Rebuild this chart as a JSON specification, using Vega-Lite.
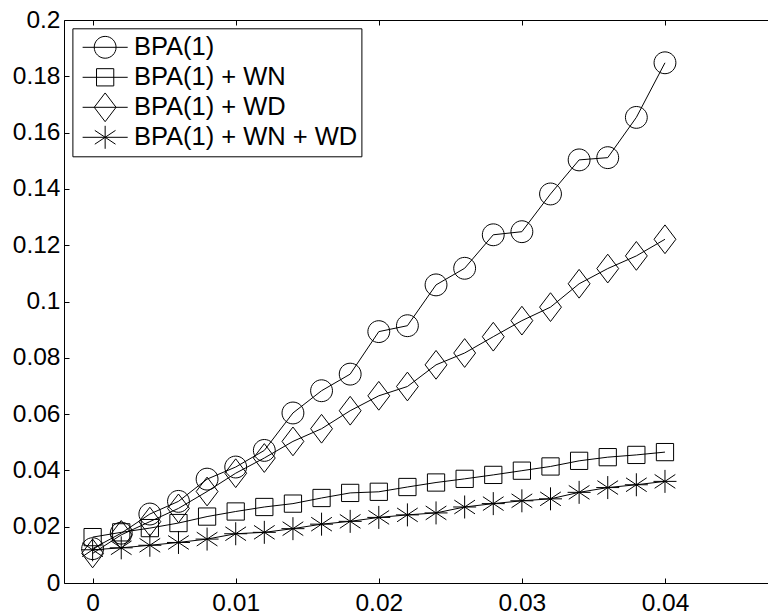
{
  "$schema": "https://vega.github.io/schema/vega-lite/v6.json",
  "width": 704,
  "height": 563,
  "autosize": {"type": "none"},
  "padding": {"left": 64, "top": 20, "right": 0, "bottom": 32},
  "background": "white",
  "config": {
    "view": {"stroke": null},
    "font": "Liberation Sans",
    "axis": {
      "grid": false,
      "title": null,
      "domainColor": "black",
      "domainWidth": 1,
      "tickColor": "black",
      "tickWidth": 1,
      "tickSize": -5,
      "labelFont": "Liberation Sans",
      "labelFontSize": 24.5,
      "labelColor": "black"
    },
    "legend": {
      "orient": "none",
      "legendX": 8.4,
      "legendY": 8.3,
      "strokeColor": "black",
      "fillColor": "white",
      "padding": 4,
      "labelFont": "Liberation Sans",
      "labelFontSize": 25.5,
      "labelColor": "black",
      "labelLimit": 0,
      "symbolSize": 529,
      "symbolOffset": 16,
      "labelOffset": 16,
      "rowPadding": 0,
      "clipHeight": 30,
      "symbolStrokeWidth": 1,
      "symbolStrokeColor": "black",
      "symbolFillColor": "transparent",
      "symbolOpacity": 1
    }
  },
  "data": {
    "values": [
      {"series": "BPA(1)", "x": 0.000, "y": 0.0122},
      {"series": "BPA(1)", "x": 0.002, "y": 0.0177},
      {"series": "BPA(1)", "x": 0.004, "y": 0.0245},
      {"series": "BPA(1)", "x": 0.006, "y": 0.0290},
      {"series": "BPA(1)", "x": 0.008, "y": 0.0369},
      {"series": "BPA(1)", "x": 0.010, "y": 0.0412},
      {"series": "BPA(1)", "x": 0.012, "y": 0.0471},
      {"series": "BPA(1)", "x": 0.014, "y": 0.0604},
      {"series": "BPA(1)", "x": 0.016, "y": 0.0683},
      {"series": "BPA(1)", "x": 0.018, "y": 0.0742},
      {"series": "BPA(1)", "x": 0.020, "y": 0.0893},
      {"series": "BPA(1)", "x": 0.022, "y": 0.0914},
      {"series": "BPA(1)", "x": 0.024, "y": 0.1059},
      {"series": "BPA(1)", "x": 0.026, "y": 0.1118},
      {"series": "BPA(1)", "x": 0.028, "y": 0.1237},
      {"series": "BPA(1)", "x": 0.030, "y": 0.1248},
      {"series": "BPA(1)", "x": 0.032, "y": 0.1382},
      {"series": "BPA(1)", "x": 0.034, "y": 0.1503},
      {"series": "BPA(1)", "x": 0.036, "y": 0.1511},
      {"series": "BPA(1)", "x": 0.038, "y": 0.1654},
      {"series": "BPA(1)", "x": 0.040, "y": 0.1848},
      {"series": "BPA(1) + WN", "x": 0.000, "y": 0.0163},
      {"series": "BPA(1) + WN", "x": 0.002, "y": 0.0180},
      {"series": "BPA(1) + WN", "x": 0.004, "y": 0.0195},
      {"series": "BPA(1) + WN", "x": 0.006, "y": 0.0213},
      {"series": "BPA(1) + WN", "x": 0.008, "y": 0.0236},
      {"series": "BPA(1) + WN", "x": 0.010, "y": 0.0254},
      {"series": "BPA(1) + WN", "x": 0.012, "y": 0.0270},
      {"series": "BPA(1) + WN", "x": 0.014, "y": 0.0282},
      {"series": "BPA(1) + WN", "x": 0.016, "y": 0.0302},
      {"series": "BPA(1) + WN", "x": 0.018, "y": 0.0320},
      {"series": "BPA(1) + WN", "x": 0.020, "y": 0.0324},
      {"series": "BPA(1) + WN", "x": 0.022, "y": 0.0341},
      {"series": "BPA(1) + WN", "x": 0.024, "y": 0.0357},
      {"series": "BPA(1) + WN", "x": 0.026, "y": 0.0370},
      {"series": "BPA(1) + WN", "x": 0.028, "y": 0.0384},
      {"series": "BPA(1) + WN", "x": 0.030, "y": 0.0399},
      {"series": "BPA(1) + WN", "x": 0.032, "y": 0.0414},
      {"series": "BPA(1) + WN", "x": 0.034, "y": 0.0434},
      {"series": "BPA(1) + WN", "x": 0.036, "y": 0.0447},
      {"series": "BPA(1) + WN", "x": 0.038, "y": 0.0455},
      {"series": "BPA(1) + WN", "x": 0.040, "y": 0.0465},
      {"series": "BPA(1) + WD", "x": 0.000, "y": 0.0105},
      {"series": "BPA(1) + WD", "x": 0.002, "y": 0.0171},
      {"series": "BPA(1) + WD", "x": 0.004, "y": 0.0218},
      {"series": "BPA(1) + WD", "x": 0.006, "y": 0.0265},
      {"series": "BPA(1) + WD", "x": 0.008, "y": 0.0325},
      {"series": "BPA(1) + WD", "x": 0.010, "y": 0.0390},
      {"series": "BPA(1) + WD", "x": 0.012, "y": 0.0444},
      {"series": "BPA(1) + WD", "x": 0.014, "y": 0.0503},
      {"series": "BPA(1) + WD", "x": 0.016, "y": 0.0548},
      {"series": "BPA(1) + WD", "x": 0.018, "y": 0.0612},
      {"series": "BPA(1) + WD", "x": 0.020, "y": 0.0665},
      {"series": "BPA(1) + WD", "x": 0.022, "y": 0.0698},
      {"series": "BPA(1) + WD", "x": 0.024, "y": 0.0775},
      {"series": "BPA(1) + WD", "x": 0.026, "y": 0.0817},
      {"series": "BPA(1) + WD", "x": 0.028, "y": 0.0875},
      {"series": "BPA(1) + WD", "x": 0.030, "y": 0.0932},
      {"series": "BPA(1) + WD", "x": 0.032, "y": 0.0980},
      {"series": "BPA(1) + WD", "x": 0.034, "y": 0.1063},
      {"series": "BPA(1) + WD", "x": 0.036, "y": 0.1117},
      {"series": "BPA(1) + WD", "x": 0.038, "y": 0.1162},
      {"series": "BPA(1) + WD", "x": 0.040, "y": 0.1221},
      {"series": "BPA(1) + WN + WD", "x": 0.000, "y": 0.0118},
      {"series": "BPA(1) + WN + WD", "x": 0.002, "y": 0.0125},
      {"series": "BPA(1) + WN + WD", "x": 0.004, "y": 0.0134},
      {"series": "BPA(1) + WN + WD", "x": 0.006, "y": 0.0144},
      {"series": "BPA(1) + WN + WD", "x": 0.008, "y": 0.0156},
      {"series": "BPA(1) + WN + WD", "x": 0.010, "y": 0.0175},
      {"series": "BPA(1) + WN + WD", "x": 0.012, "y": 0.0180},
      {"series": "BPA(1) + WN + WD", "x": 0.014, "y": 0.0193},
      {"series": "BPA(1) + WN + WD", "x": 0.016, "y": 0.0209},
      {"series": "BPA(1) + WN + WD", "x": 0.018, "y": 0.0219},
      {"series": "BPA(1) + WN + WD", "x": 0.020, "y": 0.0233},
      {"series": "BPA(1) + WN + WD", "x": 0.022, "y": 0.0242},
      {"series": "BPA(1) + WN + WD", "x": 0.024, "y": 0.0249},
      {"series": "BPA(1) + WN + WD", "x": 0.026, "y": 0.0270},
      {"series": "BPA(1) + WN + WD", "x": 0.028, "y": 0.0282},
      {"series": "BPA(1) + WN + WD", "x": 0.030, "y": 0.0292},
      {"series": "BPA(1) + WN + WD", "x": 0.032, "y": 0.0299},
      {"series": "BPA(1) + WN + WD", "x": 0.034, "y": 0.0322},
      {"series": "BPA(1) + WN + WD", "x": 0.036, "y": 0.0339},
      {"series": "BPA(1) + WN + WD", "x": 0.038, "y": 0.0349},
      {"series": "BPA(1) + WN + WD", "x": 0.040, "y": 0.0361}
    ]
  },
  "layer": [
    {
      "mark": {"type": "line", "color": "black", "strokeWidth": 1},
      "encoding": {
        "x": {
          "field": "x", "type": "quantitative",
          "scale": {"domain": [-0.002, 0.0472], "nice": false, "zero": false},
          "axis": {"orient": "bottom", "values": [0, 0.01, 0.02, 0.03, 0.04], "format": ".2~f", "labelPadding": 13}
        },
        "y": {
          "field": "y", "type": "quantitative",
          "scale": {"domain": [0, 0.2], "nice": false},
          "axis": {"orient": "left", "values": [0, 0.02, 0.04, 0.06, 0.08, 0.1, 0.12, 0.14, 0.16, 0.18, 0.2], "format": ".2~f", "labelPadding": 9}
        },
        "detail": {"field": "series"}
      }
    },
    {
      "mark": {"type": "point", "filled": false, "color": "black", "strokeWidth": 1, "size": 529, "opacity": 1},
      "encoding": {
        "x": {
          "field": "x", "type": "quantitative",
          "axis": {"orient": "top", "values": [0, 0.01, 0.02, 0.03, 0.04], "labels": false}
        },
        "y": {"field": "y", "type": "quantitative"},
        "shape": {
          "field": "series", "type": "nominal",
          "scale": {
            "domain": ["BPA(1)", "BPA(1) + WN", "BPA(1) + WD", "BPA(1) + WN + WD"],
            "range": [
              "M0.95,0A0.95,0.95,0,1,1,-0.95,0A0.95,0.95,0,1,1,0.95,0Z",
              "M-0.75,-0.75H0.75V0.75H-0.75Z",
              "M0,-1.25L0.95,0L0,1.25L-0.95,0Z",
              "M0,-1V1M-1,0H1M-0.9,-0.6L0.9,0.6M-0.9,0.6L0.9,-0.6"
            ]
          },
          "legend": null
        }
      }
    },
    {
      "mark": {"type": "point", "filled": false, "color": "black", "strokeWidth": 1, "size": 529, "opacity": 0},
      "encoding": {
        "x": {"field": "x", "type": "quantitative", "axis": null},
        "y": {"field": "y", "type": "quantitative"},
        "shape": {
          "field": "series", "type": "nominal",
          "scale": {
            "domain": ["BPA(1)", "BPA(1) + WN", "BPA(1) + WD", "BPA(1) + WN + WD"],
            "range": [
              "M-1.96,0H1.96M0.95,0A0.95,0.95,0,1,1,-0.95,0A0.95,0.95,0,1,1,0.95,0Z",
              "M-1.96,0H1.96M-0.75,-0.75H0.75V0.75H-0.75Z",
              "M-1.96,0H1.96M0,-1.25L0.95,0L0,1.25L-0.95,0Z",
              "M-1.96,0H1.96M0,-1V1M-0.9,-0.6L0.9,0.6M-0.9,0.6L0.9,-0.6"
            ]
          },
          "legend": {"title": null, "symbolOpacity": 1}
        }
      }
    }
  ],
  "resolve": {"axis": {"x": "independent"}, "scale": {"shape": "independent"}}
}
